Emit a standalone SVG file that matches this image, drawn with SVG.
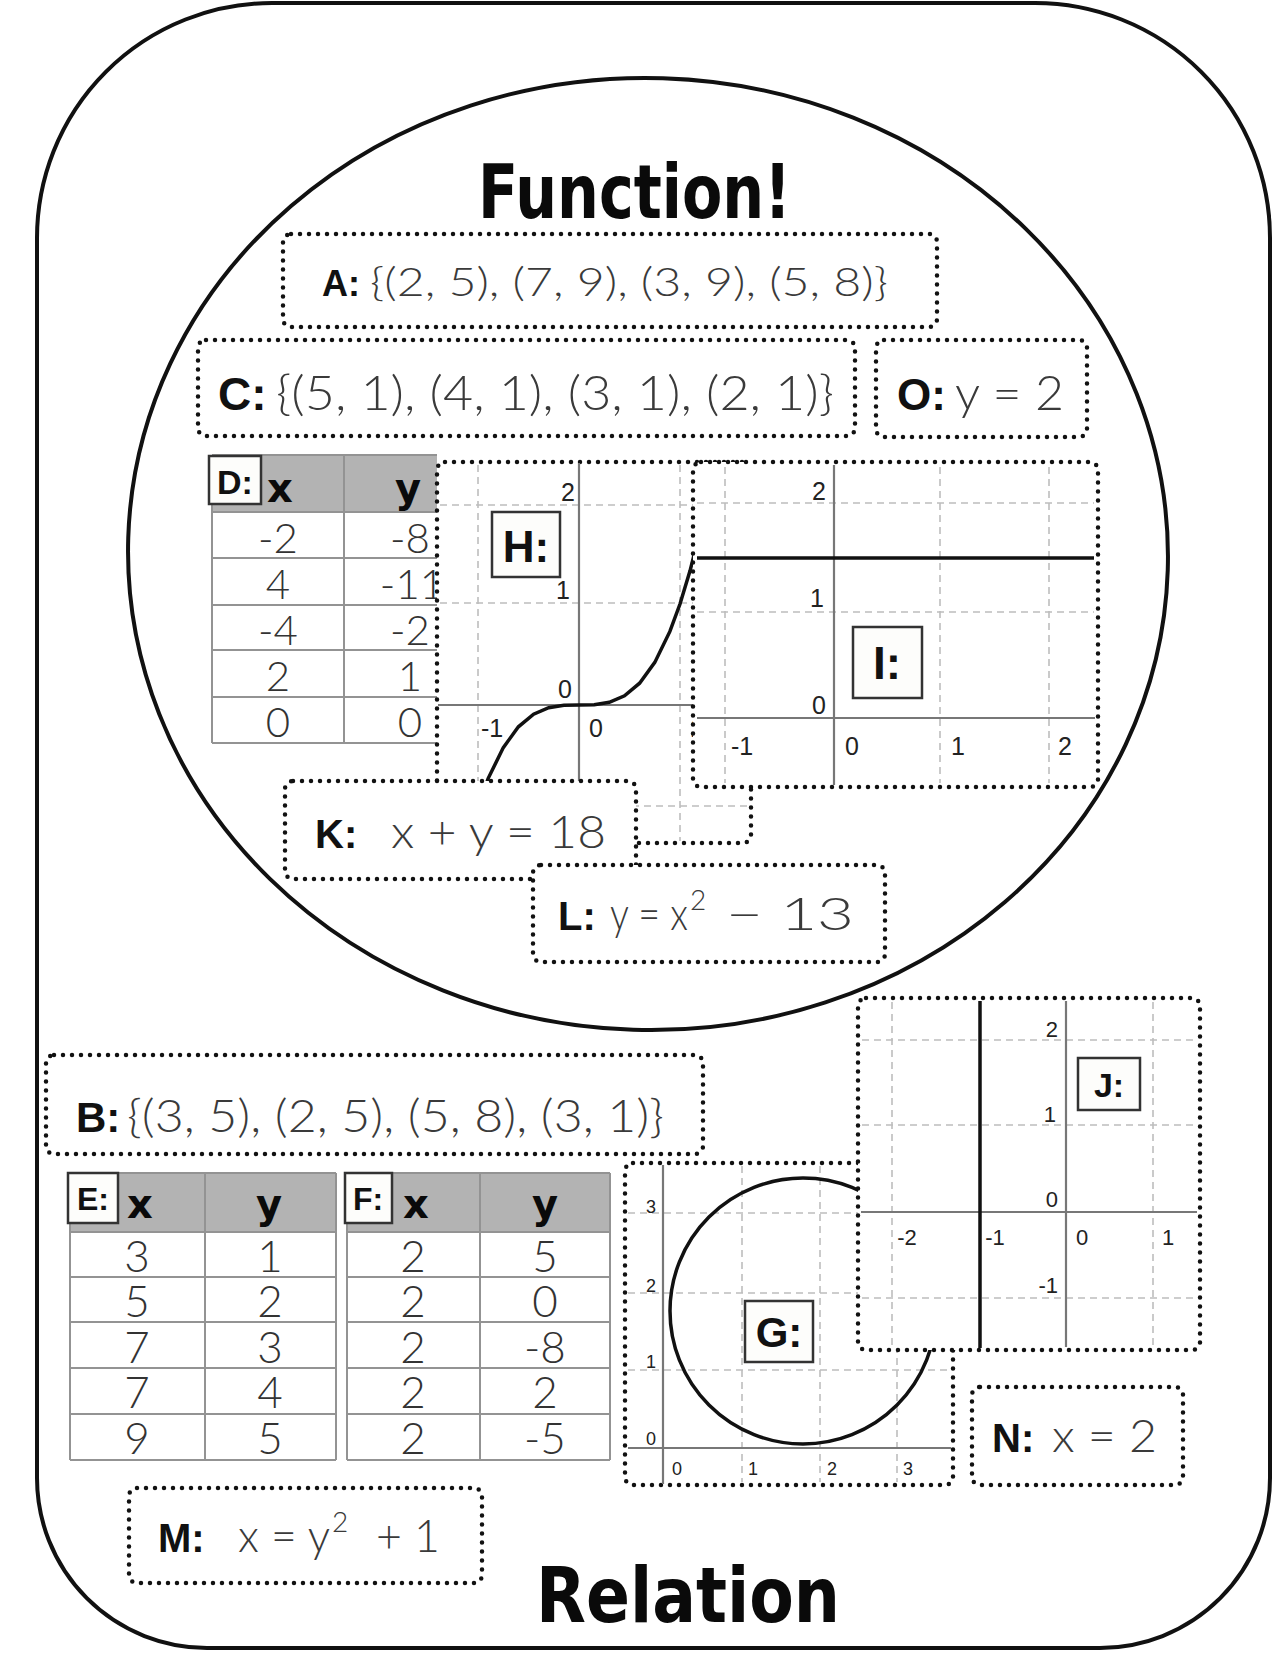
<svg xmlns="http://www.w3.org/2000/svg" width="1281" height="1655" viewBox="0 0 1281 1655">
<style>
.bg{fill:#ffffff}
.outline{fill:none;stroke:#111;stroke-width:4}
.dot{fill:#ffffff;stroke:#111;stroke-width:4.5;stroke-dasharray:0 9;stroke-linecap:round}
.lbl{font-family:"Liberation Sans",Arial,sans-serif;font-weight:bold;fill:#111}
.eq{font-family:"Lato","Open Sans","Liberation Sans",sans-serif;font-weight:300;fill:#3a3a3a}
.head{font-family:"DejaVu Sans","Liberation Sans",sans-serif;font-weight:bold;fill:#0a0a0a}
.grid{stroke:#bdbdbd;stroke-width:1.6;stroke-dasharray:7 5;fill:none}
.axis{stroke:#777;stroke-width:2.2;fill:none}
.plot{stroke:#111;stroke-width:3.5;fill:none}
.ax{font-family:"Liberation Sans",Arial,sans-serif;fill:#222}
.tag{fill:#fdfdfb;stroke:#333;stroke-width:2.5}
.thead{fill:#b3b3b3}
.tline{stroke:#939393;stroke-width:2;fill:none}
.tval{font-family:"Lato","Open Sans","Liberation Sans",sans-serif;font-weight:300;fill:#333;text-anchor:middle}
.mid{text-anchor:middle}
.end{text-anchor:end}
</style>
<defs>
<clipPath id="clipD"><rect x="200" y="440" width="237" height="320"/></clipPath>
<clipPath id="clipH"><rect x="437" y="462" width="314" height="381"/></clipPath>
<clipPath id="clipG"><rect x="625" y="1163" width="328" height="322"/></clipPath>
</defs>
<rect class="bg" x="0" y="0" width="1281" height="1655"/>

<g id="region-relation">
<path class="outline" d="M 272 3 H 1035 A 235 235 0 0 1 1270 238 V 1478 A 170 170 0 0 1 1100 1648 H 207 A 170 170 0 0 1 37 1478 V 238 A 235 235 0 0 1 272 3 Z"/>
</g>
<g id="region-function">
<ellipse class="outline" cx="648" cy="554" rx="520" ry="476" transform="rotate(1.8 648 554)"/>
</g>

<g id="connectors"></g>

<g id="node-A">
<rect class="dot" x="283" y="234" width="654" height="93" rx="8"/>
<text class="lbl" x="322" y="296" font-size="36">A:</text>
<text class="eq" x="370" y="296" font-size="40" textLength="518" lengthAdjust="spacingAndGlyphs">{(2, 5), (7, 9), (3, 9), (5, 8)}</text>
</g>

<g id="node-C">
<rect class="dot" x="198" y="340" width="657" height="96" rx="8"/>
<text class="lbl" x="218" y="410" font-size="46">C:</text>
<text class="eq" x="276" y="410" font-size="48" textLength="558" lengthAdjust="spacingAndGlyphs">{(5, 1), (4, 1), (3, 1), (2, 1)}</text>
</g>

<g id="node-O">
<rect class="dot" x="876" y="340" width="211" height="97" rx="8"/>
<text class="lbl" x="897" y="410" font-size="44">O:</text>
<text class="eq" x="955" y="410" font-size="48" textLength="109" lengthAdjust="spacingAndGlyphs">y = 2</text>
</g>

<g id="node-D">
<g clip-path="url(#clipD)">
<rect class="thead" x="212" y="455" width="264" height="57"/>
<rect x="212" y="512" width="264" height="231" fill="#fff"/>
<path class="tline" d="M212 455 H476 M212 512 H476 M212 558 H476 M212 605 H476 M212 650 H476 M212 697 H476 M212 743 H476 M212 455 V743 M344 455 V743"/>
<text class="head mid" x="280" y="502" font-size="40">x</text>
<text class="head mid" x="408" y="502" font-size="40">y</text>
<text class="tval" x="278" y="553" font-size="42">-2</text>
<text class="tval" x="278" y="599" font-size="42">4</text>
<text class="tval" x="278" y="645" font-size="42">-4</text>
<text class="tval" x="278" y="691" font-size="42">2</text>
<text class="tval" x="278" y="737" font-size="42">0</text>
<text class="tval" x="410" y="553" font-size="42">-8</text>
<text class="tval" x="412" y="599" font-size="42">-11</text>
<text class="tval" x="410" y="645" font-size="42">-2</text>
<text class="tval" x="410" y="691" font-size="42">1</text>
<text class="tval" x="410" y="737" font-size="42">0</text>
</g>
<rect class="tag" x="209" y="456" width="52" height="48"/>
<text class="lbl mid" x="235" y="494" font-size="34">D:</text>
</g>

<g id="node-H">
<rect class="dot" x="437" y="462" width="314" height="381" rx="8"/>
<g clip-path="url(#clipH)">
<path class="grid" d="M478 465 V841 M680 465 V841 M440 505 H748 M440 603 H748 M440 806 H748"/>
<path class="axis" d="M579 463 V843 M438 705 H750"/>
<path class="plot" d="M473 822 L488.1 778.6 L503.3 747.6 L518.4 726.8 L533.6 714.2 L548.7 707.7 L563.9 705.3 L579 705 L594.2 704.7 L609.3 702.3 L624.5 695.8 L639.6 683.2 L654.8 662.4 L669.9 631.4 L680 604 L690.1 570.6 L700.2 530.5"/>
</g>
<text class="ax end" x="575" y="501" font-size="25">2</text>
<text class="ax end" x="570" y="599" font-size="25">1</text>
<text class="ax end" x="572" y="698" font-size="25">0</text>
<text class="ax mid" x="492" y="737" font-size="25">-1</text>
<text class="ax mid" x="596" y="737" font-size="25">0</text>
<text class="ax mid" x="697" y="737" font-size="25">1</text>
<rect class="tag" x="492" y="512" width="68" height="65"/>
<text class="lbl mid" x="526" y="562" font-size="44">H:</text>
</g>

<g id="node-I">
<rect class="dot" x="693" y="462" width="405" height="325" rx="8"/>
<path class="grid" d="M725 467 V783 M940 467 V783 M1049 467 V783 M697 503 H1094 M697 612 H1094"/>
<path class="axis" d="M834 465 V785 M697 718 H1095"/>
<path class="plot" d="M697 558 H1094" stroke-width="4"/>
<text class="ax end" x="826" y="500" font-size="25">2</text>
<text class="ax end" x="824" y="607" font-size="25">1</text>
<text class="ax end" x="826" y="714" font-size="25">0</text>
<text class="ax mid" x="742" y="755" font-size="25">-1</text>
<text class="ax mid" x="852" y="755" font-size="25">0</text>
<text class="ax mid" x="958" y="755" font-size="25">1</text>
<text class="ax mid" x="1065" y="755" font-size="25">2</text>
<rect class="tag" x="853" y="627" width="69" height="71"/>
<text class="lbl mid" x="887" y="679" font-size="46">I:</text>
</g>

<g id="node-K">
<rect class="dot" x="285" y="781" width="351" height="98" rx="8"/>
<text class="lbl" x="315" y="848" font-size="40">K:</text>
<text class="eq" x="391" y="848" font-size="46" textLength="215" lengthAdjust="spacingAndGlyphs">x + y = 18</text>
</g>

<g id="node-L">
<rect class="dot" x="533" y="865" width="352" height="97" rx="8"/>
<text class="lbl" x="558" y="930" font-size="40">L:</text>
<text class="eq" x="610" y="930" font-size="46" textLength="78" lengthAdjust="spacingAndGlyphs">y = x</text>
<text class="eq" x="690" y="910" font-size="28">2</text>
<text class="eq" x="726" y="930" font-size="46" textLength="128" lengthAdjust="spacingAndGlyphs">− 13</text>
</g>

<g id="node-B">
<rect class="dot" x="46" y="1055" width="657" height="99" rx="8"/>
<text class="lbl" x="76" y="1132" font-size="42">B:</text>
<text class="eq" x="127" y="1132" font-size="46" textLength="537" lengthAdjust="spacingAndGlyphs">{(3, 5), (2, 5), (5, 8), (3, 1)}</text>
</g>

<g id="node-E">
<rect class="thead" x="70" y="1173" width="266" height="59"/>
<rect x="70" y="1232" width="266" height="228" fill="#fff"/>
<path class="tline" d="M70 1173 H336 M70 1232 H336 M70 1277 H336 M70 1322 H336 M70 1368 H336 M70 1414 H336 M70 1460 H336 M70 1173 V1460 M205 1173 V1460 M336 1173 V1460"/>
<text class="head mid" x="140" y="1218" font-size="40">x</text>
<text class="head mid" x="269" y="1218" font-size="40">y</text>
<text class="tval" x="137" y="1272" font-size="44">3</text>
<text class="tval" x="137" y="1317" font-size="44">5</text>
<text class="tval" x="137" y="1363" font-size="44">7</text>
<text class="tval" x="137" y="1408" font-size="44">7</text>
<text class="tval" x="137" y="1454" font-size="44">9</text>
<text class="tval" x="270" y="1272" font-size="44">1</text>
<text class="tval" x="270" y="1317" font-size="44">2</text>
<text class="tval" x="270" y="1363" font-size="44">3</text>
<text class="tval" x="270" y="1408" font-size="44">4</text>
<text class="tval" x="270" y="1454" font-size="44">5</text>
<rect class="tag" x="68" y="1173" width="50" height="50"/>
<text class="lbl mid" x="93" y="1210" font-size="32">E:</text>
</g>

<g id="node-F">
<rect class="thead" x="347" y="1173" width="263" height="59"/>
<rect x="347" y="1232" width="263" height="228" fill="#fff"/>
<path class="tline" d="M347 1173 H610 M347 1232 H610 M347 1277 H610 M347 1322 H610 M347 1368 H610 M347 1414 H610 M347 1460 H610 M347 1173 V1460 M480 1173 V1460 M610 1173 V1460"/>
<text class="head mid" x="416" y="1218" font-size="40">x</text>
<text class="head mid" x="545" y="1218" font-size="40">y</text>
<text class="tval" x="413" y="1272" font-size="44">2</text>
<text class="tval" x="413" y="1317" font-size="44">2</text>
<text class="tval" x="413" y="1363" font-size="44">2</text>
<text class="tval" x="413" y="1408" font-size="44">2</text>
<text class="tval" x="413" y="1454" font-size="44">2</text>
<text class="tval" x="545" y="1272" font-size="44">5</text>
<text class="tval" x="545" y="1317" font-size="44">0</text>
<text class="tval" x="545" y="1363" font-size="44">-8</text>
<text class="tval" x="545" y="1408" font-size="44">2</text>
<text class="tval" x="545" y="1454" font-size="44">-5</text>
<rect class="tag" x="345" y="1173" width="47" height="50"/>
<text class="lbl mid" x="368" y="1210" font-size="32">F:</text>
</g>

<g id="node-G">
<rect class="dot" x="625" y="1163" width="328" height="322" rx="8"/>
<g clip-path="url(#clipG)">
<path class="grid" d="M742 1166 V1482 M820 1166 V1482 M897 1166 V1482 M628 1213 H950 M628 1293 H950 M628 1370 H950"/>
<path class="axis" d="M663 1165 V1484 M628 1448 H951"/>
<circle class="plot" cx="803" cy="1311" r="133" stroke-width="3"/>
</g>
<text class="ax end" x="656" y="1213" font-size="18">3</text>
<text class="ax end" x="656" y="1292" font-size="18">2</text>
<text class="ax end" x="656" y="1368" font-size="18">1</text>
<text class="ax end" x="656" y="1445" font-size="18">0</text>
<text class="ax mid" x="677" y="1475" font-size="18">0</text>
<text class="ax mid" x="753" y="1475" font-size="18">1</text>
<text class="ax mid" x="832" y="1475" font-size="18">2</text>
<text class="ax mid" x="908" y="1475" font-size="18">3</text>
<rect class="tag" x="745" y="1301" width="68" height="61"/>
<text class="lbl mid" x="779" y="1347" font-size="42">G:</text>
</g>

<g id="node-J">
<rect class="dot" x="858" y="998" width="342" height="352" rx="8"/>
<path class="grid" d="M892 1002 V1346 M1153 1002 V1346 M862 1040 H1196 M862 1125 H1196 M862 1298 H1196"/>
<path class="axis" d="M1066 1001 V1347 M861 1212 H1197"/>
<path class="plot" d="M980 1001 V1348" stroke-width="4"/>
<text class="ax end" x="1058" y="1037" font-size="22">2</text>
<text class="ax end" x="1056" y="1122" font-size="22">1</text>
<text class="ax end" x="1058" y="1207" font-size="22">0</text>
<text class="ax end" x="1058" y="1293" font-size="22">-1</text>
<text class="ax mid" x="907" y="1245" font-size="22">-2</text>
<text class="ax mid" x="995" y="1245" font-size="22">-1</text>
<text class="ax mid" x="1082" y="1245" font-size="22">0</text>
<text class="ax mid" x="1168" y="1245" font-size="22">1</text>
<rect class="tag" x="1078" y="1058" width="62" height="52"/>
<text class="lbl mid" x="1109" y="1097" font-size="34">J:</text>
</g>

<g id="node-N">
<rect class="dot" x="972" y="1387" width="211" height="98" rx="8"/>
<text class="lbl" x="992" y="1452" font-size="40">N:</text>
<text class="eq" x="1052" y="1452" font-size="46" textLength="105" lengthAdjust="spacingAndGlyphs">x = 2</text>
</g>

<g id="node-M">
<rect class="dot" x="129" y="1488" width="353" height="95" rx="8"/>
<text class="lbl" x="158" y="1552" font-size="40">M:</text>
<text class="eq" x="238" y="1552" font-size="46" textLength="92" lengthAdjust="spacingAndGlyphs">x = y</text>
<text class="eq" x="332" y="1532" font-size="28">2</text>
<text class="eq" x="376" y="1552" font-size="46" textLength="64" lengthAdjust="spacingAndGlyphs">+ 1</text>
</g>

<g id="title-function">
<text class="head" x="478" y="218" font-size="74" textLength="313" lengthAdjust="spacingAndGlyphs">Function!</text>
</g>
<g id="title-relation">
<text class="head" x="536" y="1622" font-size="76" textLength="304" lengthAdjust="spacingAndGlyphs">Relation</text>
</g>
</svg>
